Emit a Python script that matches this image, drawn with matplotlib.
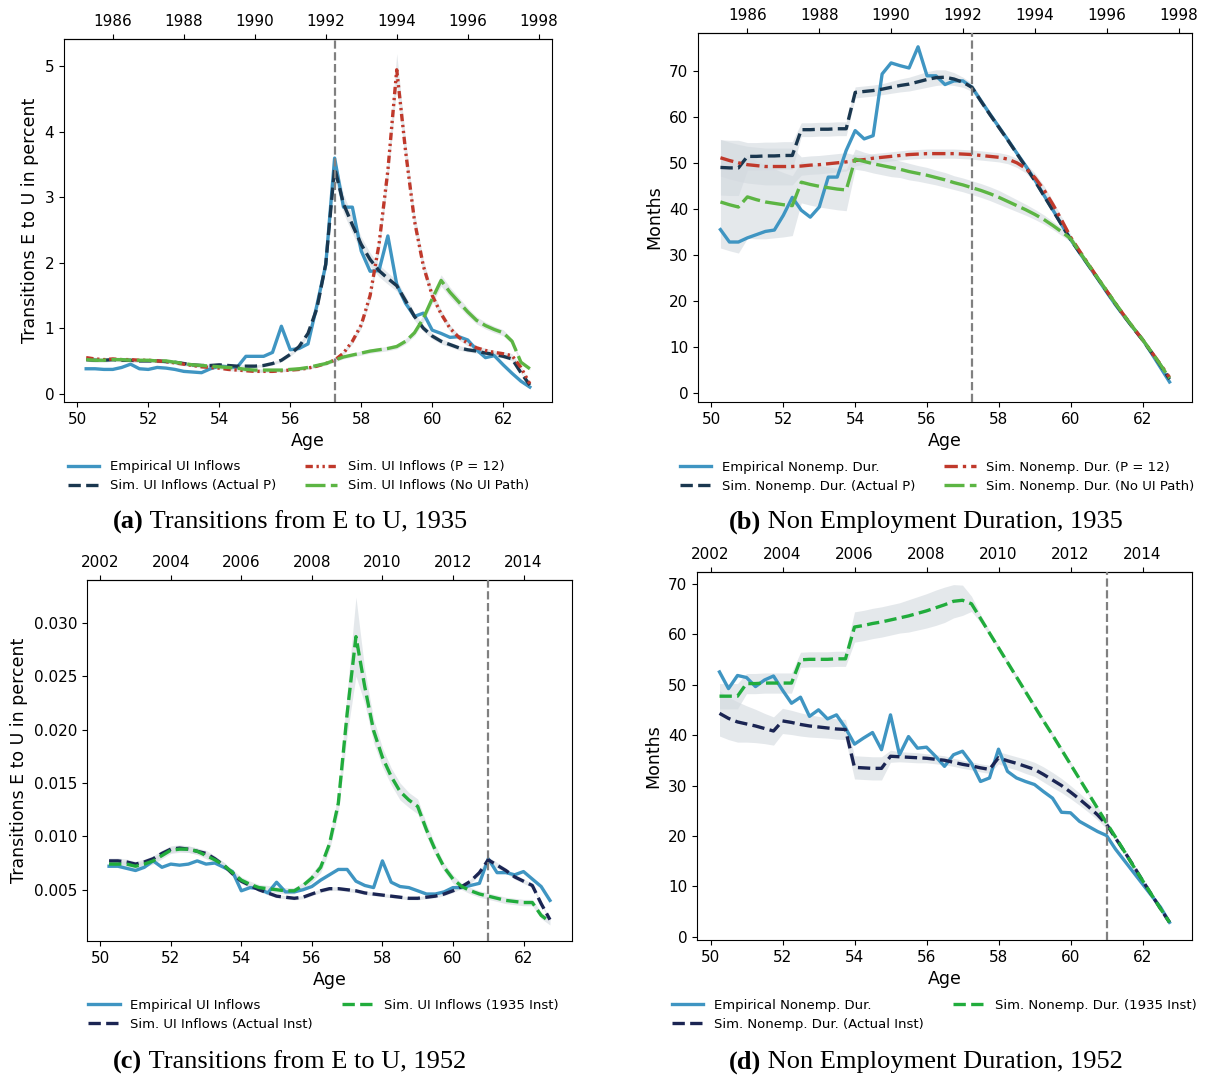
import numpy as np
import matplotlib
matplotlib.use("Agg")
import matplotlib.pyplot as plt

# quarterly ages 50.25 ... 62.75
AGE = np.arange(50.25, 62.76, 0.25)
YEARS_1935 = [1986, 1988, 1990, 1992, 1994, 1996, 1998]
YEARS_1952 = [2002, 2004, 2006, 2008, 2010, 2012, 2014]

# ---- (a) transitions E->U, cohort 1935 ----
emp_a = [0.38, 0.38, 0.37, 0.37, 0.40, 0.45, 0.38, 0.37, 0.40, 0.39,
         0.37, 0.34, 0.33, 0.32, 0.38, 0.42, 0.41, 0.40, 0.57, 0.57,
         0.57, 0.63, 1.03, 0.67, 0.69, 0.76, 1.35, 1.97, 3.60, 2.85,
         2.85, 2.18, 1.87, 1.88, 2.41, 1.67, 1.38, 1.18, 1.23, 0.97,
         0.92, 0.86, 0.87, 0.82, 0.67, 0.55, 0.58, 0.44, 0.31, 0.19, 0.10]
act_a = [0.52, 0.51, 0.51, 0.52, 0.51, 0.51, 0.50, 0.50, 0.50, 0.49,
         0.48, 0.46, 0.44, 0.43, 0.43, 0.44, 0.43, 0.42, 0.42, 0.42,
         0.43, 0.46, 0.51, 0.60, 0.72, 0.92, 1.30, 1.98, 3.45, 2.90,
         2.58, 2.28, 2.05, 1.88, 1.76, 1.65, 1.42, 1.18, 1.00, 0.88,
         0.80, 0.75, 0.70, 0.67, 0.65, 0.62, 0.60, 0.57, 0.53, 0.32, 0.13]
p12_a = [0.55, 0.53, 0.52, 0.53, 0.52, 0.52, 0.51, 0.51, 0.50, 0.49,
         0.47, 0.45, 0.43, 0.41, 0.40, 0.39, 0.37, 0.36, 0.35, 0.34,
         0.34, 0.34, 0.35, 0.36, 0.37, 0.39, 0.42, 0.46, 0.51, 0.62,
         0.80, 1.05, 1.50, 2.28, 3.41, 4.95, 3.70, 2.64, 1.95, 1.50,
         1.22, 1.00, 0.86, 0.77, 0.70, 0.66, 0.63, 0.61, 0.58, 0.40, 0.15]
noui_a = [0.52, 0.51, 0.51, 0.52, 0.52, 0.51, 0.51, 0.51, 0.50, 0.50,
          0.48, 0.46, 0.44, 0.43, 0.42, 0.41, 0.40, 0.39, 0.37, 0.36,
          0.36, 0.36, 0.36, 0.37, 0.38, 0.40, 0.43, 0.46, 0.51, 0.56,
          0.59, 0.62, 0.65, 0.67, 0.69, 0.72, 0.80, 0.93, 1.15, 1.45,
          1.73, 1.55, 1.40, 1.25, 1.12, 1.04, 0.98, 0.93, 0.80, 0.48, 0.38]

# ---- (b) non-employment duration, cohort 1935 ----
emp_b = [35.5, 32.8, 32.8, 33.7, 34.4, 35.1, 35.4, 38.6, 42.5, 39.7,
         38.2, 40.4, 46.9, 46.9, 52.7, 57.0, 55.2, 55.9, 69.3, 71.7,
         71.1, 70.6, 75.2, 68.9, 68.9, 67.0, 67.8, 67.8, 66.4, 63.5,
         60.6, 57.8, 55.0, 52.1, 49.3, 46.3, 43.0, 39.8, 36.5, 33.3,
         30.4, 27.6, 24.8, 21.9, 19.1, 16.5, 14.0, 11.6, 8.6, 5.5, 2.4]
act_b = [49.0, 48.9, 48.9, 51.4, 51.4, 51.5, 51.5, 51.6, 51.6, 57.2,
         57.2, 57.3, 57.3, 57.4, 57.4, 65.3, 65.5, 65.7, 66.0, 66.4,
         66.8, 67.1, 67.6, 68.1, 68.5, 68.6, 68.2, 67.5, 66.4, 63.4,
         60.5, 57.7, 54.9, 52.0, 49.1, 46.1, 42.9, 39.7, 36.5, 33.3,
         30.5, 27.7, 24.9, 22.1, 19.3, 16.6, 14.0, 11.5, 8.8, 6.0, 3.0]
p12_b = [51.1, 50.5, 50.0, 49.6, 49.4, 49.2, 49.2, 49.2, 49.2, 49.3,
         49.5, 49.6, 49.8, 50.0, 50.2, 50.5, 50.7, 51.0, 51.2, 51.4,
         51.6, 51.8, 51.9, 52.0, 52.0, 52.0, 52.0, 51.9, 51.8, 51.6,
         51.4, 51.2, 50.8, 50.0, 48.8, 46.8, 44.2, 41.0, 37.5, 33.8,
         30.8, 27.9, 25.0, 22.2, 19.4, 16.7, 14.1, 11.6, 8.9, 6.2, 3.4]
noui_b = [41.5, 40.9, 40.4, 42.6, 42.0, 41.5, 41.2, 40.9, 40.7, 45.8,
          45.3, 44.9, 44.6, 44.3, 44.1, 50.8, 50.3, 49.8, 49.4, 49.0,
          48.6, 48.1, 47.7, 47.3, 46.8, 46.3, 45.7, 45.2, 44.6, 44.0,
          43.3, 42.5, 41.6, 40.7, 39.8, 38.8, 37.7, 36.4, 35.0, 33.5,
          30.6, 27.8, 25.0, 22.2, 19.4, 16.7, 14.1, 11.6, 8.9, 6.1, 3.2]
# confidence half-widths (months)
ci_act_b = [6.0, 6.0, 6.0, 3.0, 3.0, 3.0, 3.0, 3.0, 3.0, 1.5,
            1.5, 1.5, 1.5, 1.5, 1.5, 1.2, 1.2, 1.2, 1.2, 1.3,
            1.4, 1.5, 1.6, 1.7, 1.7, 1.6, 1.4, 1.1, 0.9, 0.8,
            0.7, 0.7, 0.6, 0.6, 0.6, 0.6, 0.5, 0.5, 0.5, 0.5,
            0.5, 0.4, 0.4, 0.4, 0.4, 0.3, 0.3, 0.3, 0.3, 0.3, 0.3]
ci_p12_b = [4.0, 4.0, 4.0, 4.0, 4.0, 4.0, 4.0, 4.0, 4.0, 2.0,
            2.0, 2.0, 2.0, 2.0, 2.0, 1.2, 1.0, 1.0, 1.0, 1.0,
            1.0, 1.0, 1.0, 1.0, 1.0, 1.0, 1.0, 1.0, 1.0, 1.0,
            1.0, 1.0, 1.0, 1.0, 1.0, 1.0, 0.9, 0.8, 0.7, 0.6,
            0.5, 0.5, 0.4, 0.4, 0.4, 0.3, 0.3, 0.3, 0.3, 0.3, 0.3]
ci_noui_b = [10.0, 10.0, 10.0, 9.0, 8.5, 8.0, 7.5, 7.0, 6.5, 4.5,
             4.5, 4.5, 4.5, 4.5, 4.5, 2.2, 2.0, 2.0, 2.0, 2.0,
             1.8, 1.8, 1.7, 1.7, 1.6, 1.6, 1.5, 1.5, 1.5, 1.5,
             1.5, 1.5, 1.4, 1.3, 1.2, 1.1, 1.0, 0.9, 0.8, 0.7,
             0.6, 0.5, 0.5, 0.4, 0.4, 0.3, 0.3, 0.3, 0.3, 0.3, 0.3]

# ---- (c) transitions E->U, cohort 1952 ----
emp_c = [0.0072, 0.0072, 0.0070, 0.0068, 0.0071, 0.0077, 0.0071, 0.0074, 0.0073, 0.0074,
         0.0077, 0.0074, 0.0075, 0.0071, 0.0067, 0.0049, 0.0052, 0.0051, 0.0047, 0.0057,
         0.0048, 0.0048, 0.0050, 0.0053, 0.0059, 0.0064, 0.0069, 0.0069, 0.0058, 0.0054,
         0.0052, 0.0077, 0.0057, 0.0053, 0.0052, 0.0049, 0.0046, 0.0046, 0.0048, 0.0052,
         0.0052, 0.0054, 0.0056, 0.0079, 0.0066, 0.0066, 0.0064, 0.0067, 0.0060, 0.0053, 0.0040]
act_c = [0.0077, 0.0077, 0.0076, 0.0074, 0.0076, 0.0079, 0.0084, 0.0088, 0.0089, 0.0088,
         0.0086, 0.0084, 0.0079, 0.0073, 0.0065, 0.0058, 0.0054, 0.0050, 0.0047, 0.0044,
         0.0043, 0.0042, 0.0043, 0.0046, 0.0049, 0.0051, 0.0051, 0.0050, 0.0049, 0.0047,
         0.0046, 0.0045, 0.0044, 0.0043, 0.0042, 0.0042, 0.0043, 0.0044, 0.0046, 0.0049,
         0.0053, 0.0058, 0.0066, 0.0078, 0.0073, 0.0068, 0.0062, 0.0058, 0.0054, 0.0037, 0.0022]
inst_c = [0.0074, 0.0074, 0.0074, 0.0072, 0.0074, 0.0077, 0.0082, 0.0087, 0.0088, 0.0088,
          0.0086, 0.0082, 0.0078, 0.0073, 0.0066, 0.0059, 0.0055, 0.0052, 0.0051, 0.0050,
          0.0049, 0.0049, 0.0054, 0.0061, 0.0071, 0.0093, 0.0131, 0.0215, 0.0287, 0.0240,
          0.0199, 0.0174, 0.0156, 0.0142, 0.0134, 0.0128, 0.0106, 0.0087, 0.0071, 0.0060,
          0.0053, 0.0049, 0.0046, 0.0044, 0.0042, 0.0040, 0.0039, 0.0038, 0.0038, 0.0026, 0.0020]
ci_inst_c = [0.0003, 0.0003, 0.0003, 0.0003, 0.0003, 0.0003, 0.0003, 0.0003, 0.0003, 0.0003,
             0.0003, 0.0003, 0.0003, 0.0003, 0.0003, 0.0003, 0.0003, 0.0003, 0.0003, 0.0003,
             0.0003, 0.0003, 0.0003, 0.0004, 0.0005, 0.0006, 0.0009, 0.0020, 0.0037, 0.0016,
             0.0011, 0.0009, 0.0008, 0.0008, 0.0007, 0.0007, 0.0006, 0.0005, 0.0004, 0.0004,
             0.0003, 0.0003, 0.0003, 0.0003, 0.0003, 0.0003, 0.0003, 0.0003, 0.0003, 0.0003, 0.0003]

# ---- (d) non-employment duration, cohort 1952 ----
emp_d = [52.5, 49.2, 51.8, 51.4, 49.6, 50.9, 51.7, 48.9, 46.3, 47.5,
         43.7, 45.0, 43.2, 44.0, 41.4, 38.2, 39.4, 40.5, 37.1, 44.0,
         36.1, 39.7, 37.4, 37.6, 35.8, 33.8, 36.1, 36.8, 34.4, 30.8,
         31.5, 37.2, 32.8, 31.5, 30.8, 30.2, 28.8, 27.5, 24.7, 24.6,
         22.9, 21.9, 20.9, 20.1, 17.4, 15.1, 12.8, 10.5, 8.2, 5.9, 2.9]
act_d = [44.3, 43.3, 42.6, 42.2, 41.8, 41.3, 40.8, 42.8, 42.5, 42.1,
         41.8, 41.6, 41.4, 41.2, 41.1, 33.6, 33.5, 33.4, 33.4, 35.8,
         35.7, 35.6, 35.5, 35.4, 35.2, 35.0, 34.6, 34.2, 33.9, 33.5,
         33.2, 35.5, 34.9, 34.4, 33.8, 33.2, 32.2, 31.1, 30.0, 28.7,
         27.3, 25.8, 24.2, 22.3, 19.6, 16.9, 14.1, 11.2, 8.4, 5.6, 2.9]
inst_d = [47.7, 47.7, 47.7, 50.2, 50.2, 50.3, 50.3, 50.3, 50.3, 54.9,
          55.0, 55.0, 55.0, 55.1, 55.1, 61.4, 61.7, 62.1, 62.4, 62.8,
          63.2, 63.6, 64.1, 64.6, 65.2, 65.8, 66.5, 66.7, 66.0, 63.1,
          60.2, 57.3, 54.4, 51.5, 48.6, 45.7, 42.8, 40.0, 37.1, 34.2,
          31.3, 28.4, 25.5, 22.6, 19.8, 16.9, 14.0, 11.2, 8.4, 5.6, 2.9]
ci_act_d = [4.5, 4.2, 4.0, 3.6, 3.3, 3.0, 2.8, 2.5, 2.4, 2.3,
            2.2, 2.1, 2.0, 2.0, 2.0, 2.3, 2.3, 2.3, 2.3, 1.2,
            1.0, 1.0, 1.0, 0.9, 0.9, 0.9, 0.8, 0.8, 0.8, 0.8,
            0.8, 1.2, 1.3, 1.3, 1.4, 1.4, 1.5, 1.5, 1.4, 1.3,
            1.2, 1.1, 1.0, 0.8, 0.6, 0.5, 0.4, 0.3, 0.3, 0.3, 0.3]
ci_inst_d = [2.5, 2.5, 2.5, 2.0, 2.0, 2.0, 2.0, 2.0, 2.0, 1.5,
             1.5, 1.5, 1.5, 1.5, 1.5, 3.0, 3.0, 3.0, 3.0, 3.0,
             3.0, 3.2, 3.3, 3.4, 3.5, 3.5, 3.3, 3.0, 1.5, 0.8,
             0.5, 0.5, 0.5, 0.5, 0.5, 0.5, 0.5, 0.5, 0.5, 0.5,
             0.4, 0.4, 0.4, 0.4, 0.3, 0.3, 0.3, 0.3, 0.3, 0.3, 0.3]

# relative CI widths where the band is a near-constant share of the level
CI_REL_A = 0.05
CI_REL_ACT_C = 0.035

# ---- styling ----
C_EMP = "#3f95c2"
C_NAVY1 = "#1a374f"
C_RED = "#c0392b"
C_GREEN1 = "#5cb543"
C_NAVY2 = "#1b2553"
C_GREEN2 = "#21ac3c"
C_BAND = "#d3d9df"
LW = 2.4
DASH_DOTDOT = (0, (2.2, 1.1, 0.7, 1.1, 0.7, 1.1))
DASH_DOT = (0, (4.0, 1.5, 1.0, 1.5))
LONG_DASH = (0, (6.0, 1.6))

W, H = 1210, 1080
fig = plt.figure(figsize=(W / 100, H / 100), dpi=100)


def box(l, t, r, b):
    return [l / W, 1 - b / H, (r - l) / W, (b - t) / H]


def band(ax, y, hw):
    y = np.asarray(y); hw = np.asarray(hw)
    ax.fill_between(AGE, y - hw, y + hw, color=C_BAND, alpha=0.6, lw=0, zorder=1)


def setup(ax, cohort, years, vline, ylim, ylabel, legx):
    ax.set_xlim(49.625, 63.375)
    ax.set_ylim(*ylim)
    ax.axvline(vline, color="#808080", ls="--", lw=1.6, zorder=5)
    ax.set_xlabel("Age", fontsize=12.5)
    ax.set_ylabel(ylabel, fontsize=12.5)
    ax.tick_params(labelsize=11)
    top = ax.secondary_xaxis("top", functions=(lambda a: a + cohort, lambda y: y - cohort))
    top.set_xticks(years)
    top.tick_params(labelsize=11)
    ax.legend(loc="upper center", bbox_to_anchor=(legx, -0.128), ncol=2, frameon=False,
              fontsize=9.5, handlelength=2.4, columnspacing=2.2, labelspacing=0.45)


# (a)
ax = fig.add_axes(box(64, 39, 552, 402))
for s in (act_a, p12_a, noui_a):
    band(ax, s, np.asarray(s) * CI_REL_A)
ax.plot(AGE, emp_a, color=C_EMP, lw=LW, label="Empirical UI Inflows", zorder=3)
ax.plot(AGE, act_a, color=C_NAVY1, lw=LW, ls="--", label="Sim. UI Inflows (Actual P)", zorder=3)
ax.plot(AGE, p12_a, color=C_RED, lw=LW, ls=DASH_DOTDOT, label="Sim. UI Inflows (P = 12)", zorder=3)
ax.plot(AGE, noui_a, color=C_GREEN1, lw=LW, ls=LONG_DASH, label="Sim. UI Inflows (No UI Path)", zorder=3)
setup(ax, 1935, YEARS_1935, 57.25, (-0.128, 5.42), "Transitions E to U in percent", 0.48)

# (b)
ax = fig.add_axes(box(698, 33, 1192, 402))
band(ax, act_b, ci_act_b)
band(ax, p12_b, ci_p12_b)
band(ax, noui_b, ci_noui_b)
ax.plot(AGE, emp_b, color=C_EMP, lw=LW, label="Empirical Nonemp. Dur.", zorder=3)
ax.plot(AGE, act_b, color=C_NAVY1, lw=LW, ls="--", label="Sim. Nonemp. Dur. (Actual P)", zorder=3)
ax.plot(AGE, p12_b, color=C_RED, lw=LW, ls=DASH_DOT, label="Sim. Nonemp. Dur. (P = 12)", zorder=3)
ax.plot(AGE, noui_b, color=C_GREEN1, lw=LW, ls=LONG_DASH, label="Sim. Nonemp. Dur. (No UI Path)", zorder=3)
setup(ax, 1935, YEARS_1935, 57.25, (-1.95, 78.2), "Months", 0.484)

# (c)
ax = fig.add_axes(box(87, 580, 572, 941))
band(ax, act_c, np.asarray(act_c) * CI_REL_ACT_C)
band(ax, inst_c, ci_inst_c)
ax.plot(AGE, emp_c, color=C_EMP, lw=LW, label="Empirical UI Inflows", zorder=3)
ax.plot(AGE, act_c, color=C_NAVY2, lw=LW, ls="--", label="Sim. UI Inflows (Actual Inst)", zorder=3)
ax.plot(AGE, inst_c, color=C_GREEN2, lw=LW, ls="--", label="Sim. UI Inflows (1935 Inst)", zorder=3)
setup(ax, 1952, YEARS_1952, 61.0, (0.0002, 0.034), "Transitions E to U in percent", 0.487)

# (d)
ax = fig.add_axes(box(697, 572, 1192, 940))
band(ax, act_d, ci_act_d)
band(ax, inst_d, ci_inst_d)
ax.plot(AGE, emp_d, color=C_EMP, lw=LW, label="Empirical Nonemp. Dur.", zorder=3)
ax.plot(AGE, act_d, color=C_NAVY2, lw=LW, ls="--", label="Sim. Nonemp. Dur. (Actual Inst)", zorder=3)
ax.plot(AGE, inst_d, color=C_GREEN2, lw=LW, ls="--", label="Sim. Nonemp. Dur. (1935 Inst)", zorder=3)
setup(ax, 1952, YEARS_1952, 61.0, (-0.6, 72.3), "Months", 0.479)

# captions: bold tag + serif text, centred
renderer = fig.canvas.get_renderer()
CAPS = [(290, 522, "(a)", "Transitions from E to U, 1935"),
        (926, 522, "(b)", "Non Employment Duration, 1935"),
        (290, 1062, "(c)", "Transitions from E to U, 1952"),
        (926, 1062, "(d)", "Non Employment Duration, 1952")]
for xc, yc, tag, txt in CAPS:
    kw = dict(family="Liberation Serif", fontsize=19, va="center")
    t1 = fig.text(0, 1 - yc / H, tag, fontweight="bold", **kw)
    t2 = fig.text(0, 1 - yc / H, "\u00a0" + txt, **kw)
    w1 = t1.get_window_extent(renderer).width
    w2 = t2.get_window_extent(renderer).width
    x0 = xc - (w1 + w2) / 2
    t1.set_x(x0 / W)
    t2.set_x((x0 + w1) / W)

fig.savefig("out.png", dpi=100)
